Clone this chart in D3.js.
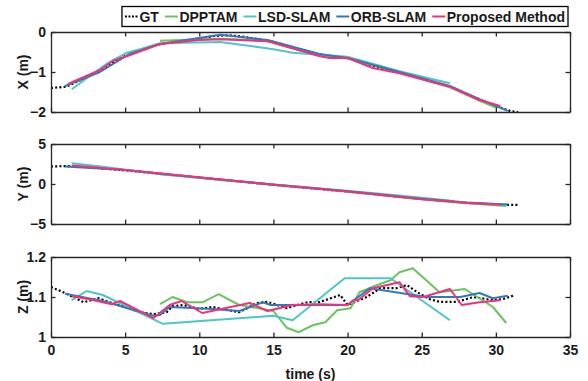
<!DOCTYPE html>
<html>
<head>
<meta charset="utf-8">
<script src="https://cdn.jsdelivr.net/npm/d3@7"></script>
<style>
  body { margin: 0; background: #fff; }
  text { font-family: "Liberation Sans", Arial, sans-serif; font-weight: bold; fill: #1a1a1a; }
</style>
</head>
<body>
<div id="chart"></div>
<script>
// series as [time (s), value] pairs
var names = ["GT", "DPPTAM", "LSD-SLAM", "ORB-SLAM", "Proposed Method"];
var colors = ["#000000", "#66c65c", "#4cc6c8", "#2f7bb6", "#f2307e"];

var timeTicks = [0, 5, 10, 15, 20, 25, 30, 35];

// X (m)
var xGT = [[0,-1.4],[1,-1.37],[2,-1.2],[3,-1.02],[4,-0.8],[5,-0.6],[6,-0.45],[7,-0.33],[8,-0.27],[9,-0.22],[10,-0.16],[11,-0.1],[12,-0.08],[13,-0.12],[14,-0.18],[15,-0.25],[16,-0.35],[17,-0.45],[18,-0.55],[19,-0.62],[20,-0.65],[21,-0.75],[22,-0.88],[23,-0.98],[24,-1.07],[25,-1.17],[26,-1.28],[27,-1.38],[28,-1.55],[29,-1.7],[30,-1.85],[31,-1.98],[31.5,-2.0]];
var xDPPTAM = [[7.35,-0.22],[11.4,-0.17],[14.6,-0.22],[18.1,-0.6],[20,-0.66],[23.5,-1.0],[26.9,-1.38],[28.9,-1.72],[30.1,-1.9]];
var xLSD = [[1.4,-1.43],[3.8,-0.78],[5.1,-0.52],[6.0,-0.43],[7.35,-0.28],[11.4,-0.25],[15,-0.43],[16.3,-0.52],[20,-0.62],[23.5,-0.98],[26.9,-1.28]];
var xORB = [[0.95,-1.35],[3.3,-1.0],[5.3,-0.55],[7.35,-0.3],[11.4,-0.07],[14.6,-0.2],[18.1,-0.55],[20,-0.65],[23.5,-1.0],[26.9,-1.35],[28.9,-1.68],[30.8,-1.97]];
var xProp = [[1.15,-1.3],[3.3,-0.95],[4.2,-0.72],[5.3,-0.58],[7.35,-0.3],[10,-0.2],[11.4,-0.18],[14.6,-0.23],[18.1,-0.6],[18.8,-0.65],[20,-0.65],[21.7,-0.9],[23.5,-1.03],[26.9,-1.37],[28.9,-1.7],[30.3,-1.85]];

// Y (m)
var yGT = [[0,2.2],[1.5,2.25],[5,1.7],[10,0.8],[15,-0.1],[20,-0.95],[25,-1.85],[28,-2.35],[30.5,-2.6],[31.5,-2.6]];
var yDPPTAM = [[7.35,1.25],[12,0.4],[16.8,-0.35],[20,-0.95],[24.4,-1.8],[28,-2.4],[30.7,-2.75]];
var yLSD = [[1.4,2.6],[3.5,2.15],[7.5,1.2],[15,-0.05],[19.8,-0.8],[22.9,-1.35],[26.9,-2.05]];
var yORB = [[0.95,2.2],[5,1.75],[10,0.82],[15,-0.08],[20,-0.92],[25,-1.85],[28,-2.3],[30.8,-2.55]];
var yProp = [[1.4,2.3],[5,1.75],[10,0.85],[15,-0.1],[20,-0.95],[25,-1.9],[28,-2.35],[30.3,-2.6]];

// Z (m)
var zGT = [[0,1.125],[0.95,1.11],[2.2,1.087],[3.2,1.097],[4.1,1.085],[5,1.075],[6,1.062],[6.9,1.057],[7.8,1.062],[8.2,1.077],[8.9,1.08],[10,1.07],[10.9,1.075],[11.8,1.068],[12.7,1.062],[13.9,1.085],[14.6,1.088],[15.9,1.072],[17.3,1.087],[18.1,1.087],[19.5,1.105],[20,1.08],[21.3,1.1],[22.2,1.122],[23.3,1.122],[24,1.13],[24.7,1.112],[25.5,1.095],[26.2,1.088],[27.4,1.088],[28.5,1.1],[29.8,1.092],[30.5,1.095],[31.3,1.105]];
var zDPPTAM = [[7.35,1.082],[8.2,1.1],[9.2,1.087],[10.25,1.087],[11.3,1.107],[12.7,1.08],[15,1.065],[15.9,1.023],[16.7,1.012],[17.7,1.03],[18.5,1.037],[19.3,1.067],[20.2,1.072],[20.8,1.112],[22,1.13],[22.9,1.142],[23.5,1.162],[24.4,1.172],[26.2,1.112],[27.9,1.12],[29.8,1.075],[30.7,1.035]];
var zLSD = [[1.4,1.092],[2.4,1.115],[3.5,1.105],[7.55,1.033],[15,1.053],[16.3,1.042],[19.8,1.147],[22.9,1.147],[26.9,1.042]];
var zORB = [[0.95,1.108],[3.5,1.09],[6.9,1.053],[7.35,1.055],[8.0,1.075],[10.9,1.07],[12.7,1.065],[14.3,1.087],[14.8,1.08],[18.1,1.08],[20,1.08],[21.5,1.122],[25.3,1.1],[27.6,1.1],[28.9,1.11],[29.8,1.097],[30.8,1.103]];
var zProp = [[1.4,1.102],[2.5,1.095],[4.1,1.082],[4.65,1.09],[6.9,1.047],[8.0,1.08],[8.8,1.09],[10.2,1.06],[13.4,1.085],[14.6,1.065],[16.3,1.08],[18.1,1.082],[20,1.08],[20.4,1.092],[20.7,1.092],[21.7,1.122],[23.5,1.137],[24.2,1.102],[25.1,1.1],[26.9,1.12],[27.7,1.08],[28.9,1.087],[30.3,1.092]];

var panels = [
  { label: "X (m)", domain: [-2, 0], ticks: [-2, -1, 0], top: 32, series: [xGT, xDPPTAM, xLSD, xORB, xProp] },
  { label: "Y (m)", domain: [-5, 5], ticks: [-5, 0, 5], top: 144, series: [yGT, yDPPTAM, yLSD, yORB, yProp] },
  { label: "Z (m)", domain: [1, 1.2], ticks: [1, 1.1, 1.2], top: 257, series: [zGT, zDPPTAM, zLSD, zORB, zProp] }
];

var width = 588, height = 381;
var left = 51, right = 570, panel_height = 80;
var tick_len = 4.5;
var axis_color = "#262626";

var svg = d3.select("#chart").append("svg")
    .attr("width", width)
    .attr("height", height);

var x = d3.scaleLinear().domain([0, 35]).range([left, right]);

panels.forEach(function(p, pi) {
    var y = d3.scaleLinear().domain(p.domain).range([p.top + panel_height, p.top]);
    var g = svg.append("g");

    svg.append("clipPath").attr("id", "clip" + pi)
        .append("rect")
        .attr("x", left).attr("y", p.top)
        .attr("width", right - left).attr("height", panel_height);

    var line = d3.line()
        .x(function(d) { return x(d[0]); })
        .y(function(d) { return y(d[1]); });

    var lines = g.append("g").attr("clip-path", "url(#clip" + pi + ")");
    p.series.forEach(function(s, i) {
        lines.append("path")
            .datum(s)
            .attr("d", line)
            .attr("fill", "none")
            .attr("stroke", colors[i])
            .attr("stroke-width", i == 0 ? 2.2 : 2)
            .attr("stroke-dasharray", i == 0 ? "2,2.2" : null)
            .attr("stroke-linejoin", "round");
    });

    // box axes, ticks inside on all four sides
    var bottomAxis = d3.axisBottom(x).tickValues(timeTicks).tickSizeInner(-tick_len).tickSizeOuter(0)
        .tickFormat(pi == 2 ? d3.format("d") : "");
    var topAxis = d3.axisTop(x).tickValues(timeTicks).tickSizeInner(-tick_len).tickSizeOuter(0).tickFormat("");
    var leftAxis = d3.axisLeft(y).tickValues(p.ticks).tickSizeInner(-tick_len).tickSizeOuter(0)
        .tickFormat(function(d) { return pi == 2 ? d3.format(".1~f")(d) : d3.format("d")(d); });
    var rightAxis = d3.axisRight(y).tickValues(p.ticks).tickSizeInner(-tick_len).tickSizeOuter(0).tickFormat("");

    var axes = [
        g.append("g").attr("transform", "translate(0," + (p.top + panel_height) + ")").call(bottomAxis),
        g.append("g").attr("transform", "translate(0," + p.top + ")").call(topAxis),
        g.append("g").attr("transform", "translate(" + left + ",0)").call(leftAxis),
        g.append("g").attr("transform", "translate(" + right + ",0)").call(rightAxis)
    ];
    axes.forEach(function(a) {
        a.select(".domain").attr("stroke", axis_color).attr("stroke-width", 1.3);
        a.selectAll(".tick line").attr("stroke", axis_color).attr("stroke-width", 1.3);
        a.selectAll(".tick text")
            .style("font-size", "14px")
            .style("font-family", "'Liberation Sans', Arial, sans-serif")
            .style("font-weight", "bold")
            .attr("fill", "#1a1a1a");
    });
    axes[2].selectAll(".tick text").attr("x", -5);
    axes[0].selectAll(".tick text").attr("y", 8);

    svg.append("text")
        .text(p.label)
        .attr("transform", "translate(23," + (p.top + panel_height / 2) + ") rotate(-90)")
        .attr("text-anchor", "middle")
        .attr("dy", "0.35em")
        .style("font-size", "14px");
});

svg.append("text")
    .text("time (s)")
    .attr("x", (left + right) / 2)
    .attr("y", 379)
    .attr("text-anchor", "middle")
    .style("font-size", "14px");

// legend: items laid out one after another, box right edge on the axes edge
var legend_line = 13, legend_pad = 3, legend_gap = 6;
var legend = svg.append("g").attr("class", "legend");
var box = legend.append("rect")
    .attr("y", 6.5).attr("height", 20)
    .attr("fill", "#fff")
    .attr("stroke", "#000")
    .attr("stroke-width", 1.3);

var cursor = 0;
var items = legend.append("g");
names.forEach(function(n, i) {
    var lg = items.append("g").attr("transform", "translate(" + cursor + ",16.5)");
    lg.append("line")
        .attr("x1", 0).attr("x2", legend_line)
        .attr("stroke", colors[i])
        .attr("stroke-width", 2)
        .attr("stroke-dasharray", i == 0 ? "2,1.5" : null);
    var t = lg.append("text")
        .text(n)
        .attr("x", legend_line + 1.5)
        .attr("dy", "0.36em")
        .style("font-size", "14px");
    cursor += legend_line + 1.5 + t.node().getComputedTextLength() + legend_gap;
});
var legend_w = cursor - legend_gap + 2 * legend_pad;
var legend_x = right - 2 - legend_w;
box.attr("x", legend_x).attr("width", legend_w);
items.attr("transform", "translate(" + (legend_x + legend_pad) + ",0)");
</script>
</body>
</html>
